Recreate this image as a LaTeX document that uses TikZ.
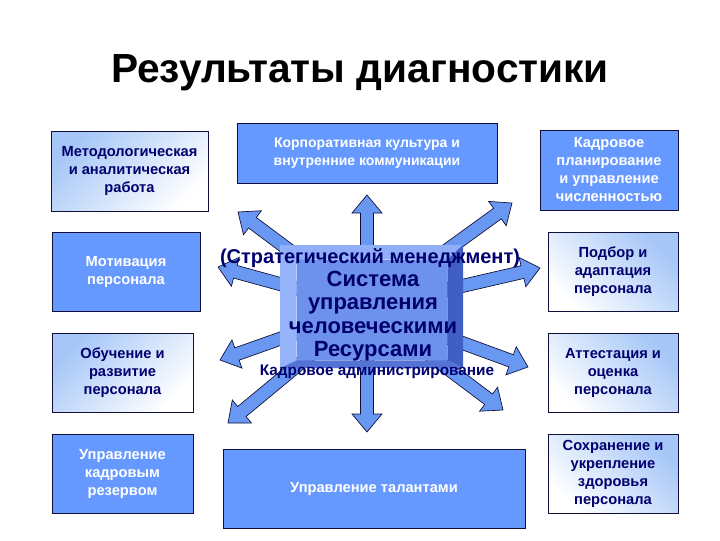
\documentclass[tikz,border=0pt]{standalone}
\usepackage{fontspec}
\setmainfont{Liberation Sans}
\usepackage{tikz}
\usetikzlibrary{calc}
\usepackage{xcolor}
\definecolor{hrblue}{RGB}{102,153,255}
\definecolor{arrblue}{RGB}{104,152,242}
\definecolor{hrnavy}{RGB}{0,0,110}
\definecolor{boxline}{RGB}{15,15,55}
\definecolor{gradblue}{RGB}{165,198,247}
\definecolor{bevellight}{RGB}{150,180,250}
\definecolor{bevelface}{RGB}{110,145,236}
\definecolor{bevelmid}{RGB}{85,115,212}
\definecolor{beveldark}{RGB}{65,95,195}
\tikzset{
    sbox/.style={draw=boxline, line width=0.7pt, fill=hrblue, text=white,
                 align=center, font=\bfseries\fontsize{#1}{13.5}\selectfont},
    gbox/.style={draw=boxline, line width=0.7pt, top color=gradblue,
                 bottom color=white, shading angle=#1, text=hrnavy,
                 align=center, font=\bfseries\fontsize{11}{13.5}\selectfont},
    hubtext/.style={text=hrnavy, align=center,
                    font=\bfseries\fontsize{#1}{17.5}\selectfont},
}

\begin{document}
\begin{tikzpicture}[
    x=0.75pt, y=-0.75pt,
    arr/.style={draw=boxline, line width=0.5pt, fill=arrblue, line join=miter},
    bevel/.style={fill=#1, draw=none},
]
    \useasboundingbox (0,0) rectangle (720,540);
    \node[font=\bfseries\fontsize{30.5}{36}\selectfont, anchor=base] (ttl) at (360,82) {Результаты диагностики};

    \node[gbox=45, minimum width=117.75pt, minimum height=60pt] (metod) at (129.5,171) {Методологическая\\и аналитическая\\работа};
    \node[sbox=11, minimum width=111pt, minimum height=59.25pt] (motiv) at (126,271.5) {Мотивация\\персонала};
    \node[gbox=45, minimum width=105.75pt, minimum height=59.25pt] (obuch) at (122.5,372.5) {Обучение и\\развитие\\персонала};
    \node[sbox=11, minimum width=105.75pt, minimum height=59.25pt] (rezerv) at (122.5,473.5) {Управление\\кадровым\\резервом};

    \node[sbox=10.5, minimum width=195pt, minimum height=45pt] (korp) at (367,153) {Корпоративная культура и\\внутренние коммуникации};
    \node[sbox=11, minimum width=226.5pt, minimum height=59.25pt] (talant) at (374,488.5) {Управление талантами};

    \node[sbox=11, minimum width=103.5pt, minimum height=60pt] (plan) at (609,170) {Кадровое\\планирование\\и управление\\численностью};
    \node[gbox=-45, minimum width=97.5pt, minimum height=59.25pt] (podbor) at (613,271.5) {Подбор и\\адаптация\\персонала};
    \node[gbox=-45, minimum width=97.5pt, minimum height=59.25pt] (attest) at (613,372.5) {Аттестация и\\оценка\\персонала};
    \node[gbox=-45, minimum width=97.5pt, minimum height=59.25pt] (sohr) at (613,473.5) {Сохранение и\\укрепление\\здоровья\\персонала};

    % arrows out of the hub
    \coordinate (hubc) at (367,308);
    \coordinate (tipN) at (367,195);
    \coordinate (tipNW) at (238,212);
    \coordinate (tipNE) at (512,203);
    \coordinate (tipW) at (218,267);
    \coordinate (tipE) at (540,268);
    \coordinate (tipWS) at (220,360);
    \coordinate (tipES) at (528,367);
    \coordinate (tipSW) at (228,423);
    \coordinate (tipS) at (367,432);
    \coordinate (tipSE) at (503,410);
    \foreach \t in {tipN,tipNW,tipNE,tipW,tipE,tipWS,tipES,tipSW,tipS,tipSE}{
        \coordinate (b) at ($(\t)!13.5pt!(hubc)$);
        \draw[arr] ($(hubc)!4.9pt!90:(\t)$) -- ($(b)!4.9pt!90:(\t)$)
            -- ($(b)!11.25pt!90:(\t)$) -- (\t) -- ($(b)!11.25pt!-90:(\t)$)
            -- ($(b)!4.9pt!-90:(\t)$) -- ($(hubc)!4.9pt!-90:(\t)$) -- cycle;
    }

    % bevelled hub
    \node[fill=bevelface, minimum width=112.5pt, minimum height=75pt, inner sep=0pt] (hub) at (372,310) {};
    \coordinate (o1) at (280,245);
    \coordinate (o2) at (463,245);
    \coordinate (o3) at (463,368);
    \coordinate (o4) at (280,368);
    \fill[bevel=bevellight!85!bevelface] (o1) -- (o2) -- (hub.north east) -- (hub.north west) -- cycle;
    \fill[bevel=beveldark] (o2) -- (o3) -- (hub.south east) -- (hub.north east) -- cycle;
    \fill[bevel=bevelmid] (o3) -- (o4) -- (hub.south west) -- (hub.south east) -- cycle;
    \fill[bevel=bevellight] (o4) -- (o1) -- (hub.north west) -- (hub.south west) -- cycle;

    \node[hubtext=15] (strat) at (370,258) {(Стратегический менеджмент)};
    \node[hubtext=16.5] (sys) at (373,316) {Система\\управления\\человеческими\\Ресурсами};
    \node[text=hrnavy, font=\bfseries\fontsize{11.5}{14}\selectfont] (admin) at (377,372) {Кадровое администрирование};
\end{tikzpicture}
\end{document}
